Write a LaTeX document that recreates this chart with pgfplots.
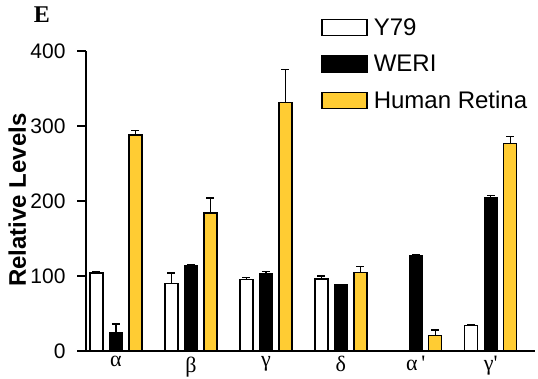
\documentclass[border=0pt]{standalone}
\usepackage{pgfplots}
\pgfplotsset{compat=1.18}
\usepackage{fontspec}
\setmainfont{Liberation Sans}
\newfontfamily\serif{Liberation Serif}
\definecolor{retina}{RGB}{255,204,51}
\begin{document}
\begin{tikzpicture}
\useasboundingbox (0,0) rectangle (538pt,379pt);
\begin{axis}[
  at={(86pt,28pt)}, anchor=south west,
  scale only axis, width=449pt, height=300pt,
  xmin=-0.4, xmax=5.59, ymin=0, ymax=400,
  axis x line*=bottom, axis y line*=left,
  axis line style={line width=1.6pt},
  ybar=6.5pt, bar width=13pt,
  ytick={0,100,200,300,400},
  xtick={0,1,2,3,4,5},
  xticklabels={{\serif α},{\serif β},{\serif γ},{\serif δ},{\serif α\,'},{\serif γ'}},
  x tick style={draw=none},
  y tick style={line width=1.4pt, black},
  major tick length=9pt, tick align=outside,
  /pgf/number format/assume math mode=true,
  yticklabel style={font=\fontsize{21}{21}\selectfont, xshift=-8pt},
  xticklabel style={font=\fontsize{22}{22}\selectfont, yshift=7pt},
  ylabel={\bfseries Relative Levels},
  ylabel style={font=\fontsize{24}{24}\selectfont, at={(axis description cs:-0.153,0.503)}, anchor=center, rotate=0},
  legend image code/.code={\draw[#1, line width=1.3pt] (0pt,-8pt) rectangle (45pt,8pt);},
  legend style={at={(rel axis cs:0.524,1.115)}, anchor=north west, draw=none, fill=none,
    font=\fontsize{24}{24}\selectfont, inner sep=0pt, row sep=14pt,
    /tikz/every odd column/.append style={column sep=4pt}},
  legend cell align=left,
  error bars/y dir=plus, error bars/y explicit,
  error bars/error bar style={line width=1.2pt, black},
  error bars/error mark options={rotate=90, mark size=4pt, line width=1.2pt, black},
  clip=false,
]
\addplot[fill=white, draw=black, line width=1.3pt] coordinates {
 (0,104) +- (0,2)
 (1,90) +- (0,14)
 (2,95) +- (0,3)
 (3,96) +- (0,4)
 (5,34) +- (0,1)
};
\addplot[fill=black, draw=black, line width=1.3pt] coordinates {
 (0,24) +- (0,12)
 (1,114) +- (0,1.5)
 (2,103) +- (0,3.5)
 (3,89) +- (0,0)
 (4,127) +- (0,1.5)
 (5,204) +- (0,3.5)
};
\addplot[fill=retina, draw=black, line width=1.3pt] coordinates {
 (0,288) +- (0,6)
 (1,184) +- (0,20)
 (2,331) +- (0,44)
 (3,105) +- (0,8)
 (4,21) +- (0,7)
 (5,277) +- (0,9)
};
\legend{Y79,WERI,Human Retina}
\node[font=\serif\bfseries\fontsize{24}{24}\selectfont] at (rel axis cs:-0.098,1.12) {E};
\end{axis}
\end{tikzpicture}
\end{document}
